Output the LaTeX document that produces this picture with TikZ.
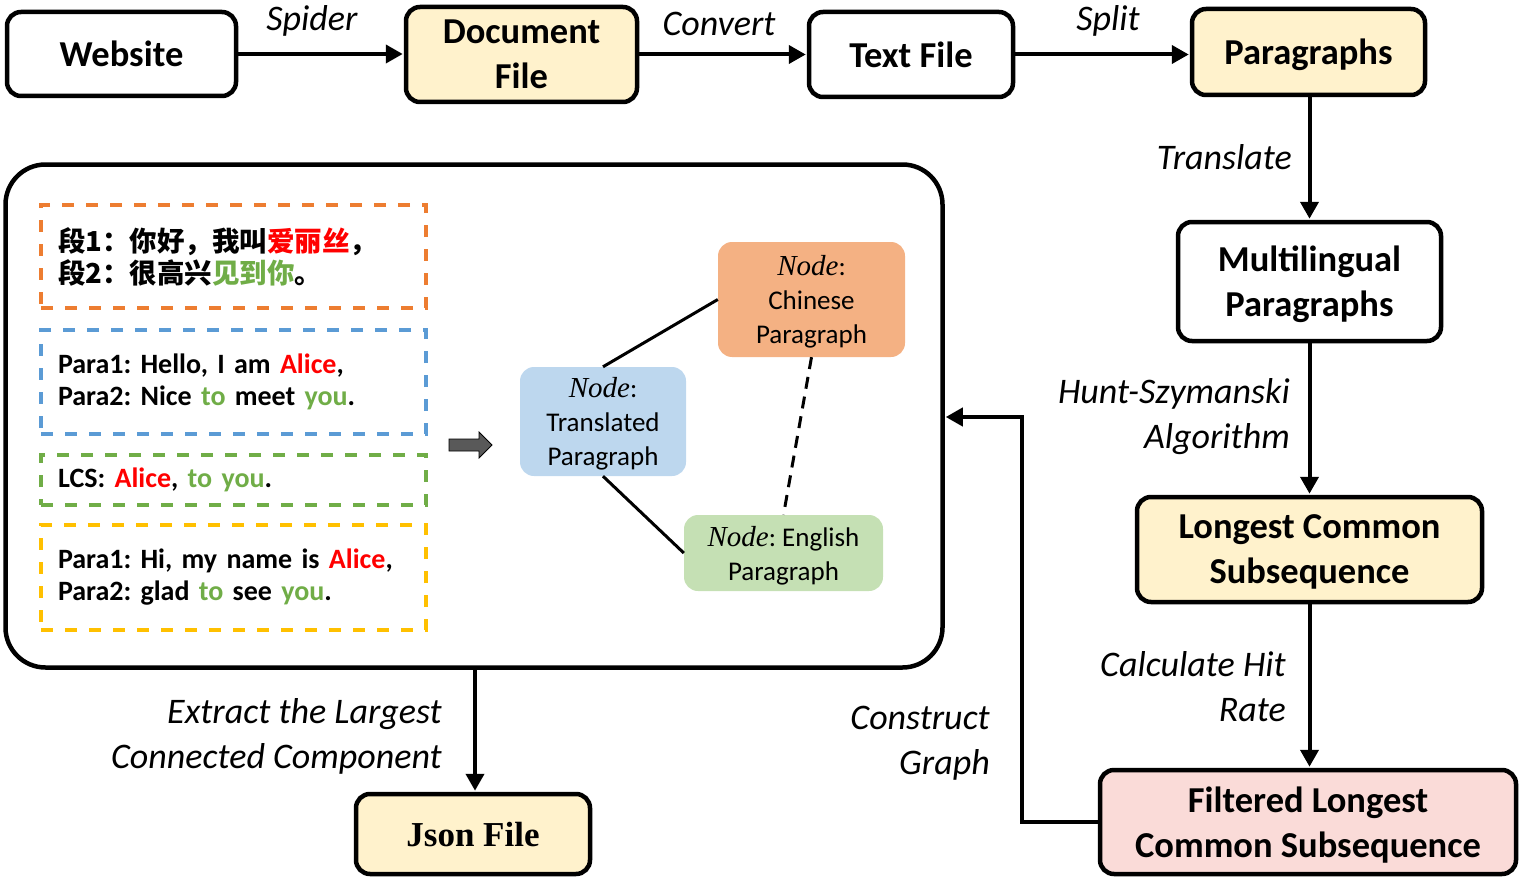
\documentclass[tikz,border=0pt]{standalone}
\usepackage{fontspec}
\setmainfont{Carlito}
\newfontfamily\cjk{Noto Sans CJK SC}
\newfontfamily\tnr{Liberation Serif}
\usetikzlibrary{arrows.meta}
\definecolor{boxyellow}{HTML}{FFF2CC}
\definecolor{boxpink}{HTML}{FADBD8}
\definecolor{dorange}{HTML}{ED7D31}
\definecolor{dblue}{HTML}{5B9BD5}
\definecolor{dgreen}{HTML}{70AD47}
\definecolor{dyellow}{HTML}{FFC000}
\definecolor{nodeorange}{HTML}{F4B183}
\definecolor{nodeblue}{HTML}{BDD7EE}
\definecolor{nodegreen}{HTML}{C5E0B4}
\definecolor{tred}{HTML}{FF0000}
\definecolor{tgreen}{HTML}{70AD47}
\definecolor{fatgray}{HTML}{595959}
\newcommand{\redt}[1]{\textcolor{tred}{#1}}
\newcommand{\grnt}[1]{\textcolor{tgreen}{#1}}
\newcommand{\nodeword}{{\tnr\itshape\fontsize{29}{34}\selectfont Node}}
\frenchspacing
\tikzset{
  box/.style={draw, line width=4.5pt, rounded corners=14pt, align=center, inner sep=0pt, text depth=0pt,
    font=\fontsize{36.5}{45}\selectfont\bfseries},
  lbl/.style={inner sep=0pt, text depth=0pt, font=\fontsize{36}{45}\selectfont\itshape},
  flow/.style={line width=4pt, -{Triangle[length=17pt,width=18pt]}, shorten >=1pt},
  dbox/.style={draw, dash pattern=on 12pt off 12pt, line width=3.2pt, inner xsep=0pt, inner ysep=0pt,
    text width=351pt, align=left, minimum width=385pt,
    font=\fontsize{28}{32}\selectfont\bfseries},
  gnode/.style={rounded corners=14pt, align=center, inner sep=0pt, text depth=0pt,
    font=\fontsize{27}{34}\selectfont},
  edge/.style={line width=3pt},
}
\begin{document}
\begin{tikzpicture}[x=1pt,y=-1pt]
\useasboundingbox (0,0) rectangle (1523,880);

% top row
\node[box, minimum width=229pt, minimum height=84pt] (web) at (121.5,54) {Website};
\node[box, fill=boxyellow, minimum width=231pt, minimum height=95pt] (doc) at (521.5,54.5) {Document\\File};
\node[box, minimum width=204pt, minimum height=85pt] (txt) at (911,54.5) {Text File};
\node[box, fill=boxyellow, minimum width=233pt, minimum height=86pt] (par) at (1308.5,52) {Paragraphs};

% right column
\node[box, minimum width=263pt, minimum height=119pt] (multi) at (1309.5,281.5) {Multilingual\\Paragraphs};
\node[box, fill=boxyellow, minimum width=345pt, minimum height=105pt] (lcs) at (1309.5,549.5) {Longest Common\\Subsequence};
\node[box, fill=boxpink, minimum width=416pt, minimum height=104pt] (filt) at (1308,822) {Filtered Longest\\Common Subsequence};

% big box and json
\node[draw, line width=4.5pt, rounded corners=40pt, minimum width=937pt, minimum height=503pt, inner sep=0pt] (big) at (474,416) {};
\node[box, fill=boxyellow, minimum width=234pt, minimum height=80pt, font=\fontsize{35}{40}\selectfont\tnr\bfseries] (json) at (473,834) {Json File};

% arrows
\draw[flow] (web.east) -- (doc.west |- web.east);
\draw[flow] (doc.east |- txt.west) -- (txt.west);
\draw[flow] (txt.east) -- (par.west |- txt.east);
\draw[flow] (par.south -| multi.north) -- (multi.north);
\draw[flow] (multi.south) -- (lcs.north);
\draw[flow] (lcs.south) -- (filt.north -| lcs.south);
\coordinate (bend) at (1022,417);
\draw[flow] (filt.west) -| (bend) -- (big.east |- bend);
\draw[flow] (big.south -| 475,0) -- (json.north -| 475,0);

% labels
\node[lbl] (lspider) at (312,18) {Spider};
\node[lbl] (lconvert) at (719,24) {Convert};
\node[lbl] (lsplit) at (1108,18) {Split};
\node[lbl, anchor=east] (ltrans) at (1292,157) {Translate};
\node[lbl, anchor=east, align=right] (lhunt) at (1290,413) {Hunt-Szymanski\\Algorithm};
\node[lbl, anchor=east, align=right] (lcalc) at (1286,686) {Calculate Hit\\Rate};
\node[lbl, anchor=east, align=right] (lcons) at (990,740) {Construct\\Graph};
\node[lbl, anchor=east, align=right] (lext) at (442,733) {Extract the Largest\\Connected Component};

% dashed boxes
\node[dbox, draw=dorange, minimum height=103pt, font=\fontsize{27.5}{32}\selectfont\cjk\bfseries] (zh) at (233.5,256.5)
  {段1：你好，我叫\redt{爱丽丝}，\\段2：很高兴\grnt{见到你}。};
\node[dbox, draw=dblue, minimum height=104pt] (en1) at (233.5,382)
  {Para1: Hello, I am \redt{Alice},\\Para2: Nice \grnt{to} meet \grnt{you}.};
\node[dbox, draw=dgreen, minimum height=50pt] (lcsbox) at (233.5,480)
  {LCS: \redt{Alice}, \grnt{to you}.};
\node[dbox, draw=dyellow, minimum height=105pt] (en2) at (233.5,577.5)
  {Para1: Hi, my name is \redt{Alice},\\Para2: glad \grnt{to} see \grnt{you}.};

% fat gray arrow
\filldraw[fill=fatgray, draw=black, line width=0.8pt]
  (449,439) -- (479,439) -- (479,432) -- (492,445) -- (479,458) -- (479,451) -- (449,451) -- cycle;

% graph nodes
\node[gnode, fill=nodeorange, minimum width=187pt, minimum height=115pt] (cn) at (811.5,299.5)
  {\nodeword:\\Chinese\\Paragraph};
\node[gnode, fill=nodeblue, minimum width=166pt, minimum height=109pt] (tn) at (603,421.5)
  {\nodeword:\\Translated\\Paragraph};
\node[gnode, fill=nodegreen, minimum width=199pt, minimum height=76pt] (engn) at (783.5,553)
  {\nodeword: English\\Paragraph};

\draw[edge] (tn.north) -- (cn.west);
\draw[edge] (tn.south) -- (engn.west);
\draw[edge, dash pattern=on 12pt off 8pt] (cn.south) -- (engn.north);
\end{tikzpicture}
\end{document}
